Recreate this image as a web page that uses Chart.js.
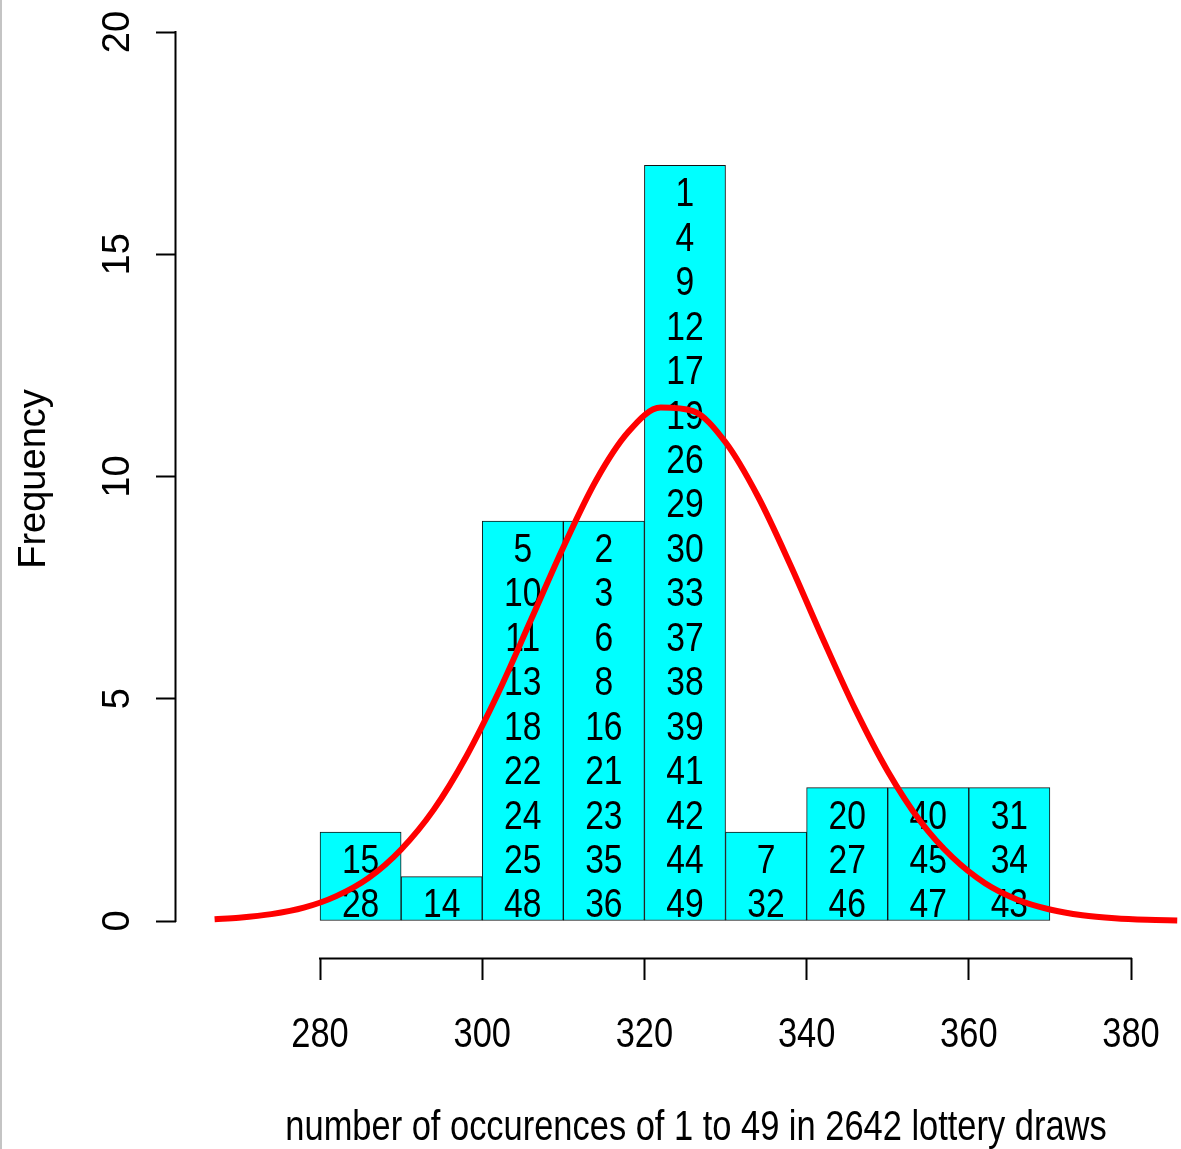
<!DOCTYPE html>
<html>
<head>
<meta charset="utf-8">
<script src="https://cdn.jsdelivr.net/npm/chart.js@4/dist/chart.umd.min.js"></script>
<style>
  html, body { margin: 0; padding: 0; background: #fff; overflow: hidden; }
  #wrap { position: relative; width: 1181px; height: 1149px; overflow: hidden; }
  #edge { position: absolute; left: 0; top: 0; width: 2px; height: 1149px; background: #c4c4c4; z-index: 2; }
  canvas { position: absolute; left: 0; top: 0; }
</style>
</head>
<body>
<div id="wrap"><div id="edge"></div><canvas id="c" width="1216" height="1149"></canvas></div>
<script>
// ---- data ----
const binStarts = [280, 290, 300, 310, 320, 330, 340, 350, 360];
const binWidth = 10;
const counts = [2, 1, 9, 9, 17, 2, 3, 3, 3];
const binNumbers = [
  [15, 28],
  [14],
  [5, 10, 11, 13, 18, 22, 24, 25, 48],
  [2, 3, 6, 8, 16, 21, 23, 35, 36],
  [1, 4, 9, 12, 17, 19, 26, 29, 30, 33, 37, 38, 39, 41, 42, 44, 49],
  [7, 32],
  [20, 27, 46],
  [40, 45, 47],
  [31, 34, 43]
];
const xTicks = [280, 300, 320, 340, 360, 380];
const yTicks = [0, 5, 10, 15, 20];
const curveX = [267, 270, 274, 278, 282, 286, 290, 294, 298, 302, 306, 310, 314, 318, 322, 326, 330, 334, 338, 342, 346, 350, 354, 358, 362, 366, 370, 374, 378, 382, 385.7];
const curveY = [0.04, 0.075, 0.155, 0.30, 0.56, 0.97, 1.61, 2.50, 3.69, 5.14, 6.77, 8.41, 9.90, 11.00, 11.55, 11.47, 10.77, 9.55, 8.01, 6.35, 4.76, 3.37, 2.25, 1.43, 0.85, 0.48, 0.26, 0.13, 0.062, 0.028, 0.013];
const xTitle = 'number of occurences of 1 to 49 in 2642 lottery draws';
const yTitle = 'Frequency';

const FAM = '"Liberation Sans", Arial, Helvetica, sans-serif';
const SQUEEZE = 0.82;   // the reference's horizontal text is a narrow face

const canvas = document.getElementById('c');
const ctx2d = canvas.getContext('2d');
// Upright text is drawn narrowed around its anchor; rotated text is left as is.
const origFillText = ctx2d.fillText.bind(ctx2d);
ctx2d.fillText = function (t, x, y, mw) {
  const m = ctx2d.getTransform();
  if (Math.abs(m.b) < 1e-6 && Math.abs(m.c) < 1e-6) {
    ctx2d.save();
    ctx2d.translate(x, y);
    ctx2d.scale(SQUEEZE, 1);
    origFillText(t, 0, 0);
    ctx2d.restore();
  } else {
    if (mw !== undefined) origFillText(t, x, y, mw); else origFillText(t, x, y);
  }
};

const barData = binStarts.map((s, i) => ({ x: s + binWidth / 2, y: counts[i] }));
const lineData = curveX.map((x, i) => ({ x: x, y: curveY[i] }));

const axisPlugin = {
  id: 'rAxes',
  afterDatasetDraw(chart, args) {
    if (args.index !== 0) return;
    const ctx = chart.ctx, xs = chart.scales.x, ys = chart.scales.y;
    ctx.save();
    ctx.fillStyle = '#000';
    ctx.font = '41px ' + FAM;
    ctx.textAlign = 'center';
    ctx.textBaseline = 'alphabetic';
    binNumbers.forEach((nums, i) => {
      const cx = xs.getPixelForValue(binStarts[i] + binWidth / 2);
      const n = nums.length;
      nums.forEach((num, k) => {
        const level = n - 1 - k;
        ctx.fillText(String(num), cx, ys.getPixelForValue(level + 0.08));
      });
    });
    ctx.restore();
  },
  afterDraw(chart) {
    const ctx = chart.ctx, xs = chart.scales.x, ys = chart.scales.y;
    ctx.save();
    ctx.strokeStyle = '#000';
    ctx.lineWidth = 2;
    ctx.beginPath();
    const yb = chart.chartArea.bottom + 0.5;
    ctx.moveTo(xs.getPixelForValue(xTicks[0]) - 1, yb);
    ctx.lineTo(xs.getPixelForValue(xTicks[xTicks.length - 1]) + 1, yb);
    const xl = chart.chartArea.left - 0.5;
    ctx.moveTo(xl, ys.getPixelForValue(yTicks[0]) + 1);
    ctx.lineTo(xl, ys.getPixelForValue(yTicks[yTicks.length - 1]) - 1);
    ctx.stroke();
    ctx.restore();
  }
};

function fixPad(s) { s.paddingTop = 0; s.paddingBottom = 0; s.paddingLeft = 0; s.paddingRight = 0; }

Chart.defaults.color = '#000';
Chart.defaults.font.family = FAM;

new Chart(ctx2d, {
  type: 'bar',
  data: {
    datasets: [
      {
        type: 'bar',
        data: barData,
        backgroundColor: '#00FFFF',
        borderColor: '#141414',
        borderWidth: 1,
        borderSkipped: false,
        barPercentage: 1,
        categoryPercentage: 1,
        order: 1
      },
      {
        type: 'line',
        data: lineData,
        borderColor: '#FF0000',
        borderWidth: 6,
        pointRadius: 0,
        fill: false,
        cubicInterpolationMode: 'monotone',
        order: 0
      }
    ]
  },
  options: {
    responsive: false,
    animation: false,
    devicePixelRatio: 1,
    layout: { padding: 0 },
    plugins: { legend: { display: false }, tooltip: { enabled: false } },
    scales: {
      x: {
        type: 'linear',
        position: 'bottom',
        min: 262.24,
        max: 390.48,
        offset: false,
        afterBuildTicks: (s) => { s.ticks = xTicks.map(v => ({ value: v })); },
        afterFit: (s) => { s.height = 191; fixPad(s); },
        grid: { display: true, drawOnChartArea: false, drawTicks: true, tickLength: 22, tickWidth: 2, tickColor: '#000', offset: false },
        border: { display: false },
        ticks: { font: { size: 42, family: FAM }, color: '#000', padding: 30, maxRotation: 0, minRotation: 0, autoSkip: false },
        title: { display: true, text: xTitle, color: '#000', font: { size: 42, family: FAM, lineHeight: 1.0 }, padding: 0 }
      },
      y: {
        type: 'linear',
        position: 'left',
        min: -0.832,
        max: 20.72,
        afterBuildTicks: (s) => { s.ticks = yTicks.map(v => ({ value: v })); },
        afterFit: (s) => { s.width = 176; fixPad(s); },
        grid: { display: true, drawOnChartArea: false, drawTicks: true, tickLength: 20, tickWidth: 2, tickColor: '#000' },
        border: { display: false },
        ticks: { font: { size: 38, family: FAM }, color: '#000', padding: 16, minRotation: 90, maxRotation: 90, crossAlign: 'center', autoSkip: false },
        title: { display: true, text: yTitle, color: '#000', font: { size: 38, family: FAM, lineHeight: 1.2 }, padding: { top: 12, bottom: 0 } }
      }
    }
  },
  plugins: [axisPlugin]
});
</script>
</body>
</html>
